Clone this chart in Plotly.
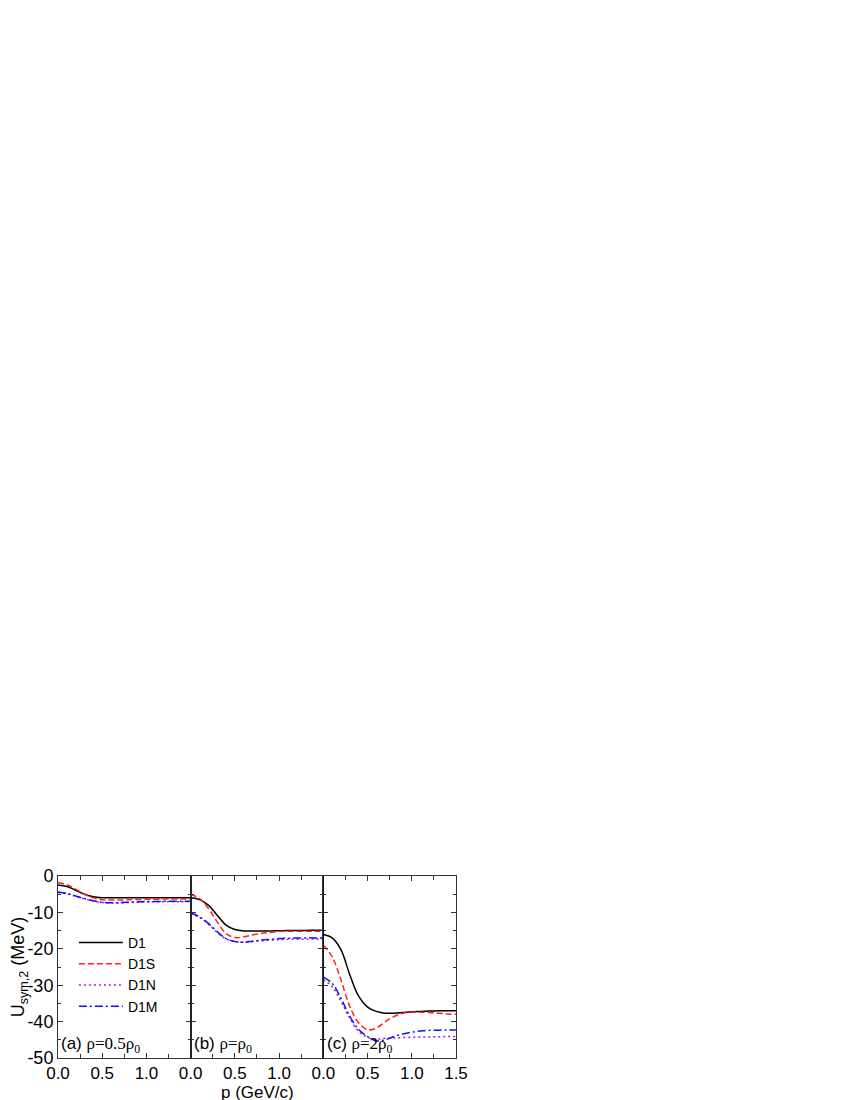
import plotly.graph_objects as go
from plotly.subplots import make_subplots

# momentum grid (GeV/c)
p = [0.0, 0.1, 0.2, 0.3, 0.4, 0.5, 0.6, 0.7, 0.8, 0.9, 1.0, 1.1, 1.2, 1.3, 1.4, 1.5]

# (a) rho = 0.5 rho0
a_d1 = [-2.5, -2.9, -3.9, -5.0, -5.7, -5.95, -6.0, -6.0, -6.0, -6.0, -6.0, -6.0, -6.0, -6.0, -6.0, -6.0]
a_d1s = [-1.8, -2.4, -3.6, -5.0, -6.0, -6.5, -6.6, -6.6, -6.5, -6.45, -6.4, -6.4, -6.35, -6.3, -6.3, -6.3]
a_d1n = [-4.5, -4.9, -5.6, -6.3, -6.9, -7.3, -7.4, -7.4, -7.3, -7.2, -7.15, -7.1, -7.1, -7.1, -7.1, -7.1]
a_d1m = [-4.4, -4.8, -5.5, -6.2, -6.8, -7.2, -7.35, -7.3, -7.2, -7.1, -7.0, -7.0, -6.95, -6.95, -6.95, -6.95]

# (b) rho = rho0
b_d1 = [-6.0, -6.5, -8.0, -10.8, -13.5, -14.7, -15.1, -15.1, -15.1, -15.1, -15.05, -15.0, -15.0, -14.95, -14.9, -14.9]
b_d1s = [-5.0, -6.2, -8.9, -12.6, -15.8, -16.9, -16.7, -16.2, -15.8, -15.5, -15.2, -15.2, -15.2, -15.2, -15.2, -15.2]
b_d1n = [-10.3, -11.4, -13.2, -15.5, -17.3, -18.0, -18.2, -18.0, -17.8, -17.6, -17.5, -17.4, -17.4, -17.35, -17.3, -17.3]
b_d1m = [-10.1, -11.2, -13.0, -15.3, -17.2, -18.0, -18.2, -17.9, -17.6, -17.4, -17.2, -17.1, -17.05, -17.0, -17.0, -17.0]

# (c) rho = 2 rho0
c_d1 = [-16.1, -17.0, -20.3, -27.2, -33.1, -36.0, -37.2, -37.7, -37.7, -37.5, -37.3, -37.2, -37.1, -37.05, -37.0, -37.0]
c_d1s = [-19.0, -22.2, -28.6, -35.9, -40.4, -42.2, -41.8, -40.0, -38.6, -37.7, -37.4, -37.4, -37.5, -37.7, -37.9, -38.0]
c_d1n = [-28.5, -30.4, -34.5, -39.1, -42.7, -44.3, -44.8, -44.6, -44.5, -44.4, -44.3, -44.2, -44.2, -44.15, -44.1, -44.1]
c_d1m = [-27.8, -29.5, -33.6, -38.6, -42.2, -44.1, -45.3, -45.0, -44.1, -43.4, -42.9, -42.6, -42.4, -42.35, -42.3, -42.3]

series_names = ["D1", "D1S", "D1N", "D1M"]
panels = [
    [a_d1, a_d1s, a_d1n, a_d1m],
    [b_d1, b_d1s, b_d1n, b_d1m],
    [c_d1, c_d1s, c_d1n, c_d1m],
]
panel_labels = ["(a) ", "(b) ", "(c) "]
panel_rho = ["ρ=0.5ρ<sub>0</sub>", "ρ=ρ<sub>0</sub>", "ρ=2ρ<sub>0</sub>"]

y_tickvals = [0, -10, -20, -30, -40, -50]
y_ticktext = ["0", "-10", "-20", "-30", "-40", "-50"]
x_tickvals = [0.0, 0.5, 1.0, 1.5]
x_ticktext = ["0.0", "0.5", "1.0", "1.5"]

colors = ["black", "#ff2020", "#a020c0", "#1010ff"]
dashes = ["solid", "6px,3px", "2px,3px", "8px,3px,2px,3px"]

FONT = "Arial, Liberation Sans, sans-serif"

fig = make_subplots(rows=1, cols=3, shared_yaxes=True, horizontal_spacing=0)

for i, curves in enumerate(panels):
    for name, ys, col, dash in zip(series_names, curves, colors, dashes):
        fig.add_trace(go.Scatter(
            x=p, y=ys, mode="lines", name=name, line_shape="spline",
            line=dict(color=col, width=1.5, dash=dash),
            showlegend=(i == 0)), row=1, col=i + 1)

    n = 4 if i == 2 else 3
    fig.update_xaxes(
        range=[0, 1.5], tickvals=x_tickvals[:n], ticktext=x_ticktext[:n],
        ticks="inside", ticklen=5, tickcolor="#333", showline=True, linecolor="#333",
        linewidth=1, mirror="allticks", showgrid=False, zeroline=False, automargin=False,
        minor=dict(tickvals=[0.25, 0.75, 1.25], ticks="inside", ticklen=4, tickcolor="#333"),
        tickfont=dict(family=FONT, size=17, color="black"), row=1, col=i + 1)
    fig.update_yaxes(
        range=[-50, 0], tickvals=y_tickvals, ticktext=y_ticktext,
        ticks="inside", ticklen=5, tickcolor="#333", showline=True, linecolor="#333",
        linewidth=1, mirror="allticks", showgrid=False, zeroline=False, automargin=False,
        minor=dict(tickvals=[-5, -15, -25, -35, -45], ticks="inside", ticklen=3, tickcolor="#333"),
        showticklabels=(i == 0),
        tickfont=dict(family=FONT, size=18, color="black"), row=1, col=i + 1)

    fig.add_annotation(
        text=panel_labels[i] + "<span style='font-family:Liberation Serif, Times New Roman, serif'>"
        + panel_rho[i] + "</span>",
        xref=f"x{'' if i == 0 else i + 1} domain", yref="y domain",
        x=0.01, y=0.0, xanchor="left", yanchor="bottom", showarrow=False,
        font=dict(family=FONT, size=17, color="black"))

# panel separators in solid black
for c in [2, 3]:
    fig.add_vline(x=0, line=dict(color="black", width=1.2), row=1, col=c)

# shared x title, placed just under the tick labels
fig.add_annotation(text="p (GeV/c)", xref="paper", yref="paper", x=0.5, y=-0.19,
                   xanchor="center", yanchor="middle", showarrow=False,
                   font=dict(family=FONT, size=17, color="black"))
fig.update_yaxes(title=dict(text="U<sub>sym,2</sub> (MeV)", font=dict(family=FONT, size=18, color="black"),
                            standoff=8), row=1, col=1)

# the page body adds an 8px offset, so margins are shifted to compensate
fig.update_layout(
    width=850, height=1100,
    margin=dict(l=50, r=402, t=868, b=50),
    plot_bgcolor="white", paper_bgcolor="white",
    showlegend=True,
    legend=dict(x=0.04, y=0.72, xanchor="left", yanchor="top", bgcolor="rgba(0,0,0,0)",
                font=dict(family=FONT, size=14, color="black"), tracegroupgap=0,
                itemwidth=44),
)

fig.write_html("out.html")
